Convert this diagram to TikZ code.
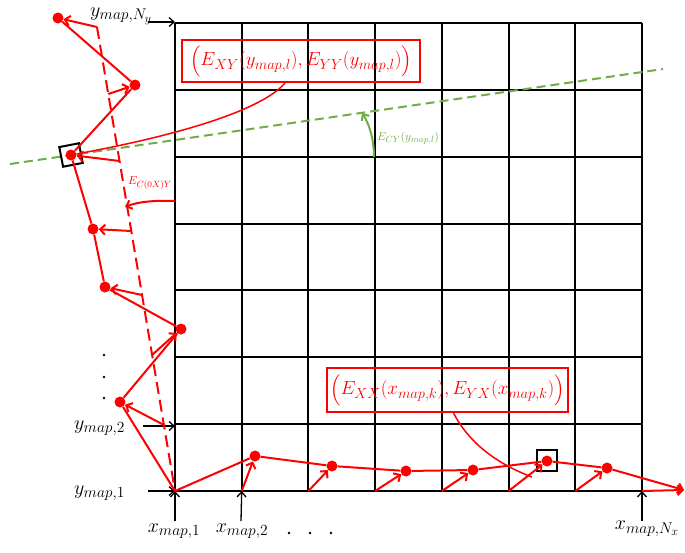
\RequirePackage{fix-cm}
\documentclass[tikz,border=0pt]{standalone}
\usepackage{amsmath}
\usetikzlibrary{arrows.meta}
\definecolor{mred}{RGB}{255,0,0}
\definecolor{mgreen}{RGB}{112,173,71}
% larger subscripts for the label sizes used below
\DeclareMathSizes{20}{20}{15.5}{12}
\DeclareMathSizes{19}{19}{14.5}{11}
\DeclareMathSizes{11.5}{11.5}{9}{7}
\begin{document}
\begin{tikzpicture}[x=1pt,y=-1pt,
  gridline/.style={line width=2pt,black},
  redline/.style={line width=2pt,mred},
  redarrow/.style={line width=2pt,mred,-{Straight Barb[length=5pt,width=10pt]}},
  axisarrow/.style={line width=1.3pt,black,-{Straight Barb[length=5pt,width=9pt]}},
  dot/.style={circle,fill=mred,inner sep=0pt,minimum size=11pt},
  selbox/.style={draw=black,line width=2pt,inner sep=0pt,minimum size=20pt},
  axislabel/.style={font=\fontsize{20}{24}\selectfont,inner sep=0pt},
  smalllabel/.style={font=\fontsize{11.5}{13}\selectfont,inner sep=0pt},
  redbox/.style={draw=mred,text=mred,line width=2pt,font=\fontsize{19}{22}\selectfont,inner sep=0pt},
  callout/.style={mred,line width=1.5pt},
  blackdot/.style={circle,fill=black,inner sep=0pt,minimum size=2.6pt}]
\useasboundingbox (0,0) rectangle (685,552);

% 7 x 7 map grid
\foreach \i in {0,...,7}{
  \draw[gridline] (175+66.714*\i,23) -- (175+66.714*\i,491);
  \draw[gridline] (175,23+66.857*\i) -- (642,23+66.857*\i);
}

% axis labels and their arrows
\coordinate (ayN) at (148,22);  \coordinate (gyN) at (175,22);
\coordinate (ay2) at (143,426); \coordinate (gy2) at (175,426);
\coordinate (ay1) at (148,491); \coordinate (gy1) at (175,491);
\coordinate (ax1) at (175,521); \coordinate (gx1) at (175,491);
\coordinate (ax2) at (241,521); \coordinate (gx2) at (241.7,491);
\coordinate (axN) at (642,521); \coordinate (gxN) at (642,491);
\draw[axisarrow] (ayN) -- (gyN);
\draw[axisarrow] (ay2) -- (gy2);
\draw[axisarrow] (ay1) -- (gy1);
\draw[axisarrow] (ax1) -- (gx1);
\draw[axisarrow] (ax2) -- (gx2);
\draw[axisarrow] (axN) -- (gxN);
\node[axislabel,anchor=base west] (lyN) at (90,16) {$y_{map,N_y}$};
\node[axislabel,anchor=base west] (ly2) at (74,429) {$y_{map,2}$};
\node[axislabel,anchor=base west] (ly1) at (74,494) {$y_{map,1}$};
\node[axislabel] (lx1) at (174,531) {$x_{map,1}$};
\node[axislabel] (lx2) at (242,531) {$x_{map,2}$};
\node[axislabel] (lxN) at (647,529) {$x_{map,N_x}$};
\node[blackdot] (hd1) at (289,533) {};
\node[blackdot] (hd2) at (310,533) {};
\node[blackdot] (hd3) at (331,533) {};
\node[blackdot] (vd1) at (104,355) {};
\node[blackdot] (vd2) at (104,377) {};
\node[blackdot] (vd3) at (104,398) {};

% green reference line and its angle
\coordinate (gl) at (10,164);
\coordinate (gr) at (663,69);
\draw[mgreen,line width=2pt,dash pattern=on 9pt off 5pt] (gl) -- (gr);
\coordinate (gaS) at (374,157);
\coordinate (gaE) at (362,113);
\draw[mgreen,line width=2pt,-{Straight Barb[length=5pt,width=9pt]}]
  (gaS) .. controls (374,137) and (368,122) .. (gaE);
\node[smalllabel,text=mgreen] (ecy) at (408,138) {$E_{CY}(y_{map,l})$};

% points along y
\node[dot] (p1) at (58,18) {};
\node[dot] (p2) at (135,85) {};
\node[dot] (p3) at (71,155) {};
\node[dot] (p4) at (93,229) {};
\node[dot] (p5) at (105,287) {};
\node[dot] (p6) at (181,329) {};
\node[dot] (p7) at (120,402) {};
\coordinate (q0) at (175,491);
\node[selbox,rotate=11] (s3) at (71,155) {};

% straight reference through the y points
\coordinate (d1) at (97,27);
\coordinate (d2) at (108.3,94);
\coordinate (d3) at (119.5,161);
\coordinate (d4) at (131.3,231);
\coordinate (d5) at (142,295);
\coordinate (d6) at (152,355);
\coordinate (d7) at (164,425);
\draw[redline,dash pattern=on 12pt off 6pt] (d1) -- (q0);
\draw[redline] (p1) -- (p2) -- (p3) -- (p4) -- (p5) -- (p6) -- (p7) -- (q0);
\draw[redarrow] (d1) -- (p1);
\draw[redarrow] (d2) -- (p2);
\draw[redarrow] (d3) -- (p3);
\draw[redarrow] (d4) -- (p4);
\draw[redarrow] (d5) -- (p5);
\draw[redarrow] (d6) -- (p6);
\draw[redarrow] (d7) -- (p7);

% angle of the y reference
\coordinate (caS) at (175,201);
\coordinate (caE) at (125,207);
\draw[mred,line width=2pt,-{Straight Barb[length=5pt,width=9pt]}]
  (caS) .. controls (155,200) and (137,202) .. (caE);
\node[smalllabel,text=mred] (ec0) at (150,183) {$E_{C(0X)Y}$};

% points along x
\node[dot] (q1) at (255,456) {};
\node[dot] (q2) at (332,466) {};
\node[dot] (q3) at (406,471) {};
\node[dot] (q4) at (473,470) {};
\node[dot] (q5) at (547,461) {};
\node[dot] (q6) at (607,468) {};
\coordinate (qend) at (684,490);
\node[selbox,minimum size=20.5pt] (s5) at (547,460.5) {};
\draw[redline] (q0) -- (q1) -- (q2) -- (q3) -- (q4) -- (q5) -- (q6);
\draw[redarrow] (q6) -- (qend);
\coordinate (b1) at (241.7,491);
\coordinate (b2) at (308.4,491);
\coordinate (b3) at (375.1,491);
\coordinate (b4) at (441.9,491);
\coordinate (b5) at (508.6,491);
\coordinate (b6) at (575.3,491);
\coordinate (b7) at (642,491);
\draw[redarrow] (b1) -- (q1);
\draw[redarrow] (b2) -- (q2);
\draw[redarrow] (b3) -- (q3);
\draw[redarrow] (b4) -- (q4);
\draw[redarrow] (b5) -- (q5);
\draw[redarrow] (b6) -- (q6);
\draw[redarrow] (b7) -- (qend);

% callouts
\node[redbox,minimum width=238pt,minimum height=42pt] (lblY) at (301,61)
  {$\Bigl(E_{XY}(y_{map,l}),E_{YY}(y_{map,l})\Bigr)$};
\node[redbox,minimum width=241pt,minimum height=44pt] (lblX) at (447.5,390)
  {$\Bigl(E_{XX}(x_{map,k}),E_{YX}(x_{map,k})\Bigr)$};
\draw[callout] ([xshift=-16pt]lblY.south) .. controls (262,110) and (180,135) .. (p3);
\coordinate (cxE) at (532,477);
\draw[callout] ([xshift=6pt]lblX.south) .. controls (470,445) and (500,465) .. (cxE);
\end{tikzpicture}
\end{document}
